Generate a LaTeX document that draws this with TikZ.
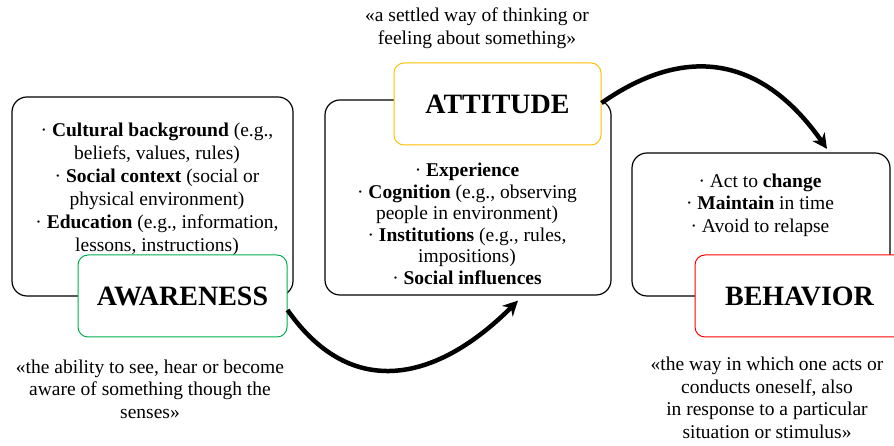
\documentclass[tikz,border=0pt]{standalone}
\usepackage{fontspec}
\newfontfamily\timesfont{Liberation Serif}
\usepackage{tikz}
\usetikzlibrary{arrows.meta,calc}
\definecolor{awareGreen}{HTML}{00B050}
\definecolor{attYellow}{HTML}{FFC000}
\definecolor{behRed}{HTML}{FF0000}

\begin{document}
\begin{tikzpicture}[
    x=1pt, y=1pt,
    stagebox/.style={draw, line width=1.2pt, rounded corners=15pt, fill=white},
    tagbox/.style={draw, line width=1pt, rounded corners=10pt, fill=white, minimum width=209pt, minimum height=82pt, font=\timesfont\bfseries\fontsize{28}{30}\selectfont},
    itemlist/.style={align=center, inner sep=0pt, font=\timesfont\fontsize{19.5}{23}\selectfont},
    quote/.style={align=center, inner sep=0pt, font=\timesfont\fontsize{19.5}{22.5}\selectfont},
    bigarrow/.style={-{Stealth[length=15pt,width=15pt]}, line width=4.5pt}
]
\path[use as bounding box, clip] (0,0) rectangle (894,446);

% the three stages
\node[stagebox, minimum width=281pt, minimum height=199pt] (awarebox) at (152.5,249.5) {};
\node[stagebox, minimum width=286pt, minimum height=195pt] (attbox) at (468,248.5) {};
\node[stagebox, minimum width=258pt, minimum height=143pt] (behbox) at (761,221.5) {};

\node[itemlist] (awareitems) at (157,257) {· \textbf{Cultural background} (e.g.,\\ beliefs, values, rules)\\ · \textbf{Social context} (social or\\ physical environment)\\ · \textbf{Education} (e.g., information,\\ lessons, instructions)};
\node[itemlist, font=\timesfont\fontsize{19.5}{21.5}\selectfont] (attitems) at (467,222) {· \textbf{Experience}\\ · \textbf{Cognition} (e.g., observing\\ people in environment)\\ · \textbf{Institutions} (e.g., rules,\\ impositions)\\ · \textbf{Social influences}};
\node[itemlist, font=\timesfont\fontsize{19.5}{22.5}\selectfont] (behitems) at (760,241) {· Act to \textbf{change}\\ · \textbf{Maintain} in time\\ · Avoid to relapse};

% title tags
\node[tagbox, draw=awareGreen] (awaretag) at (182.5,150) {AWARENESS};
\node[tagbox, draw=attYellow, minimum width=207pt] (atttag) at (497.5,342) {ATTITUDE};
\node[tagbox, draw=behRed] (behtag) at (799.5,150) {BEHAVIOR};

% definitions
\node[quote] (attdef) at (477,418) {«a settled way of thinking or\\ feeling about something»};
\node[quote] (awaredef) at (150,57) {«the ability to see, hear or become\\ aware of something though the\\ senses»};
\node[quote] (behdef) at (767,48) {«the way in which one acts or\\ conducts oneself, also\\ in response to a particular\\ situation or stimulus»};

\draw[bigarrow] ($(awaretag.east)+(0,-14)$) to[out=-55, in=-135, looseness=1.25] ($(attbox.south)+(50,-5)$);
\draw[bigarrow] ($(atttag.east)+(0,1)$) to[out=35, in=125, looseness=1.2] ($(behbox.north)+(66,3.5)$);

\end{tikzpicture}
\end{document}
